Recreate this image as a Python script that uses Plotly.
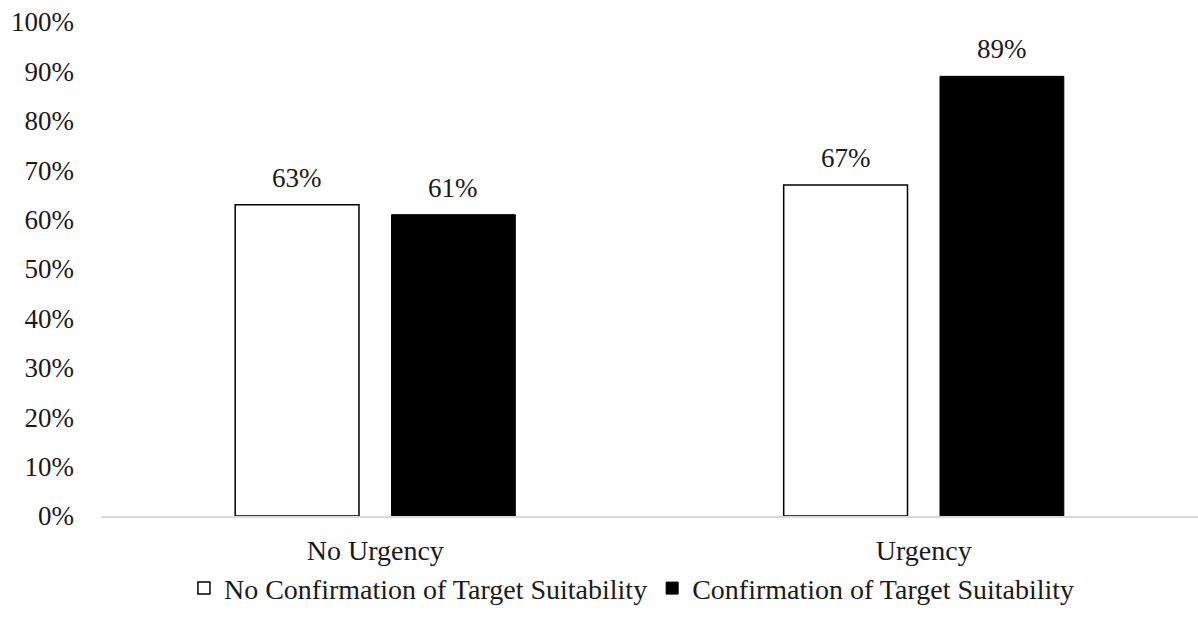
import plotly.graph_objects as go

categories = ["No Urgency", "Urgency"]
series_names = ["No Confirmation of Target Suitability", "Confirmation of Target Suitability"]
no_confirm = [0.63, 0.67]
confirm = [0.61, 0.89]
y_ticks = [0, 0.1, 0.2, 0.3, 0.4, 0.5, 0.6, 0.7, 0.8, 0.9, 1.0]

FONT = "Liberation Serif, Times New Roman, serif"
TXT = "#1a1a1a"
BARGAP = 0.43
BARGROUPGAP = 0.208

fig = go.Figure()
fig.add_trace(go.Bar(
    x=categories, y=no_confirm, name=series_names[0],
    marker=dict(color="white", line=dict(color="black", width=1.5)),
))
fig.add_trace(go.Bar(
    x=categories, y=confirm, name=series_names[1],
    marker=dict(color="black", line=dict(color="black", width=1)),
))

# data labels above each bar, positioned from the data and bar layout
n_series = 2
slot = (1 - BARGAP) / n_series
for s, vals in enumerate([no_confirm, confirm]):
    off = -(1 - BARGAP) / 2 + slot * (s + 0.5)
    for i, v in enumerate(vals):
        fig.add_annotation(x=i + off, y=v, xref="x", yref="y", text=f"{v:.0%}",
                           showarrow=False, yanchor="bottom", yshift=10,
                           font=dict(family=FONT, size=27, color=TXT))

fig.update_layout(
    width=1198, height=618,
    margin=dict(l=101, r=0, t=22, b=102),
    paper_bgcolor="white", plot_bgcolor="white",
    barmode="group", bargap=BARGAP, bargroupgap=BARGROUPGAP,
    font=dict(family=FONT, size=28, color=TXT),
    showlegend=True,
    legend=dict(orientation="h", x=0.484, xanchor="center", y=-0.096, yanchor="top",
                bgcolor="rgba(0,0,0,0)",
                font=dict(family=FONT, size=28, color=TXT),
                itemwidth=30, traceorder="normal"),
    xaxis=dict(showline=True, linecolor="#d9d9d9", linewidth=1.5, ticks="",
               range=[-0.5, 1.5], ticklabelstandoff=9,
               tickfont=dict(family=FONT, size=28, color=TXT)),
    yaxis=dict(range=[0, 1], tickvals=y_ticks, tickformat=".0%", showgrid=False,
               zeroline=False, showline=False, ticks="", ticklen=0,
               ticklabelstandoff=26,
               tickfont=dict(family=FONT, size=27, color=TXT)),
)

fig.write_html("out.html")
